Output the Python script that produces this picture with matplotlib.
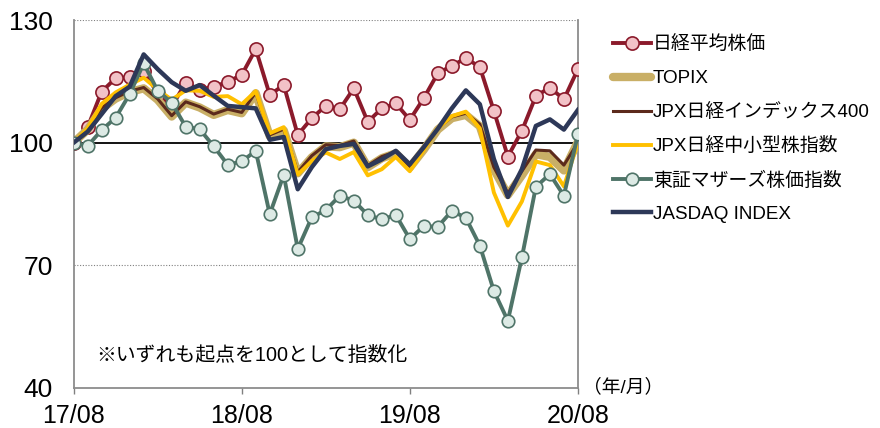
import matplotlib
matplotlib.use("Agg")
import matplotlib.pyplot as plt
from matplotlib.lines import Line2D

plt.rcParams['font.family'] = ['Liberation Sans', 'Noto Sans CJK JP', 'DejaVu Sans']

# monthly index values, 17/08 = 100
months = list(range(37))
tick_pos = [0, 12, 24, 36]
tick_labels = ['17/08', '18/08', '19/08', '20/08']

nikkei = [100, 103.8, 112.5, 115.8, 116.0, 117.6, 112.0, 108.8, 114.7, 112.9,
          113.7, 114.9, 116.6, 122.9, 111.7, 114.1, 101.9, 106.0, 109.0, 108.2,
          113.3, 105.1, 108.4, 109.6, 105.6, 110.9, 117.0, 118.8, 120.7, 118.5,
          107.8, 96.6, 102.9, 111.4, 113.5, 110.6, 118.0]
topix = [100, 103.2, 108.3, 110.8, 112.4, 113.3, 110.5, 106.4, 109.8, 108.6,
         106.8, 108.0, 107.2, 112.1, 101.6, 103.0, 92.5, 96.4, 99.1, 98.9,
         100.0, 94.0, 96.2, 97.4, 93.9, 98.3, 103.2, 106.0, 106.8, 104.0,
         93.5, 87.2, 92.0, 97.2, 96.5, 93.2, 100.2]
jpx400 = [100, 103.3, 108.5, 111.0, 112.6, 113.5, 110.7, 106.6, 110.0, 108.8,
          107.0, 108.2, 107.4, 112.3, 101.9, 103.3, 92.8, 96.8, 99.5, 99.3,
          100.4, 94.4, 96.6, 97.8, 94.2, 98.6, 103.5, 106.3, 107.2, 104.5,
          94.0, 87.6, 93.0, 98.2, 98.0, 94.5, 100.0]
midsmall = [100, 103.5, 109.5, 112.3, 114.2, 115.9, 113.0, 110.5, 112.8, 112.7,
            111.2, 111.4, 109.4, 112.6, 102.3, 103.8, 92.2, 95.5, 97.6, 96.0,
            97.7, 92.0, 93.5, 96.5, 93.0, 98.2, 103.5, 106.5, 107.6, 103.5,
            87.8, 79.7, 85.6, 95.4, 94.5, 89.3, 100.0]
mothers = [100, 99.2, 103.1, 106.1, 111.9, 119.4, 112.7, 109.8, 103.9, 103.3,
           99.1, 94.6, 95.4, 98.0, 82.5, 92.1, 74.0, 81.7, 83.5, 87.0,
           85.8, 82.3, 81.2, 82.3, 76.4, 79.6, 79.4, 83.3, 81.6, 74.8,
           63.7, 56.4, 71.9, 89.2, 92.3, 87.0, 102.0]
jasdaq = [100, 102.7, 107.0, 111.4, 113.7, 121.6, 118.0, 114.8, 112.7, 114.1,
          111.5, 109.0, 108.7, 108.4, 100.7, 101.4, 88.6, 94.0, 98.4, 99.2,
          99.7, 94.2, 95.9, 98.0, 94.7, 98.9, 103.4, 108.4, 112.8, 109.4,
          96.0, 86.7, 93.5, 104.1, 105.7, 103.2, 108.0]

labels = ['日経平均株価', 'TOPIX', 'JPX日経インデックス400', 'JPX日経中小型株指数',
          '東証マザーズ株価指数', 'JASDAQ INDEX']

fig = plt.figure(figsize=(8.8, 4.28), dpi=100)
ax = fig.add_axes([0.0837, 0.094, 0.573, 0.859])

ax.axhline(100, color='black', lw=1.3, zorder=1)
ax.axhline(70, color='#808080', lw=0.8, ls=(0, (1, 1.5)), zorder=1)
ax.axhline(130, color='#808080', lw=0.8, ls=(0, (1, 1.5)), zorder=1)

ax.plot(months, nikkei, color='#8B1A2B', lw=2.8, marker='o', ms=9.5,
        mfc='#F2C2C7', mec='#8B1A2B', mew=1.2, zorder=3)
ax.plot(months, topix, color='#C9AF66', lw=6, solid_joinstyle='round', zorder=3)
ax.plot(months, jpx400, color='#5C2A1C', lw=2.2, zorder=3)
ax.plot(months, midsmall, color='#FFC000', lw=2.8, zorder=3)
ax.plot(months, mothers, color='#4F7468', lw=2.8, marker='o', ms=9,
        mfc='#DDEAE5', mec='#4F7468', mew=1.2, zorder=3)
ax.plot(months, jasdaq, color='#2D3858', lw=3.2, zorder=3)

ax.set_xlim(0, 36)
ax.set_ylim(40, 130)
ax.set_yticks([40, 70, 100, 130])
ax.set_xticks(tick_pos)
ax.set_xticklabels(tick_labels)
ax.tick_params(axis='y', length=0, pad=15, labelsize=19)
ax.tick_params(axis='x', length=4, width=1, color='#808080', pad=8, labelsize=18,
               direction='out')
for s in ['left', 'bottom', 'right']:
    ax.spines[s].set_color('#8C8C8C')
    ax.spines[s].set_linewidth(1.3)
ax.spines['top'].set_visible(False)

ax.text(1.6, 48.0, '※いずれも起点を100として指数化', fontsize=14.3, va='center',
        ha='left')
ax.text(1.01, 0.0, '（年/月）', transform=ax.transAxes, fontsize=13.5,
        va='center', ha='left')

handles = [
    Line2D([], [], color='#8B1A2B', lw=2.8, marker='o', ms=9.5, mfc='#F2C2C7',
           mec='#8B1A2B', mew=1.2),
    Line2D([], [], color='#C9AF66', lw=6, solid_capstyle='round'),
    Line2D([], [], color='#5C2A1C', lw=2.2),
    Line2D([], [], color='#FFC000', lw=2.8),
    Line2D([], [], color='#4F7468', lw=2.8, marker='o', ms=9, mfc='#DDEAE5',
           mec='#4F7468', mew=1.2),
    Line2D([], [], color='#2D3858', lw=3.2),
]
fig.legend(handles, labels, loc='upper left', bbox_to_anchor=(0.686, 0.938),
           frameon=False, fontsize=13.6, handlelength=2.0, handletextpad=0.1,
           labelspacing=0.85, borderpad=0)

fig.savefig('out.png', dpi=100)
